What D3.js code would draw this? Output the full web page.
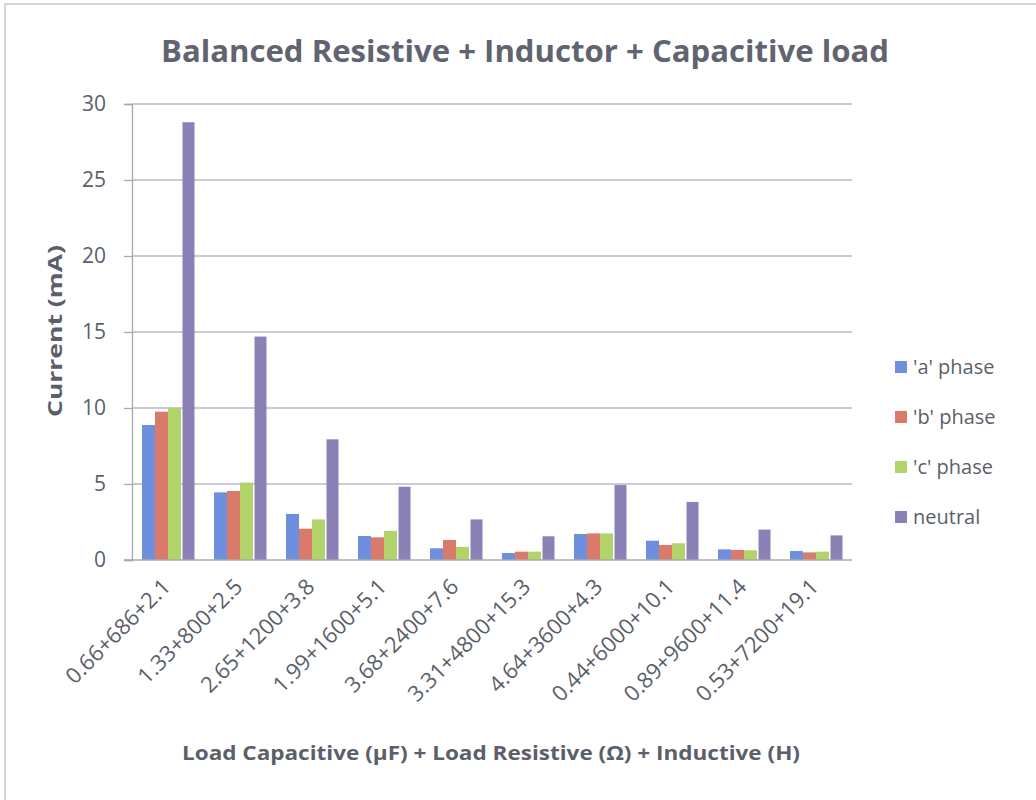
<!DOCTYPE html>
<html><head><meta charset="utf-8">
<script src="https://cdn.jsdelivr.net/npm/d3@7"></script>
<style>body{margin:0;background:#fff}svg{display:block}</style>
</head><body>
<svg id="c" width="1036" height="800"></svg>
<script>
const categories = ["0.66+686+2.1","1.33+800+2.5","2.65+1200+3.8","1.99+1600+5.1","3.68+2400+7.6","3.31+4800+15.3","4.64+3600+4.3","0.44+6000+10.1","0.89+9600+11.4","0.53+7200+19.1"];
const seriesNames = ["'a' phase","'b' phase","'c' phase","neutral"];
const aPhase  = [8.88, 4.45, 3.03, 1.58, 0.77, 0.46, 1.71, 1.27, 0.70, 0.59];
const bPhase  = [9.76, 4.54, 2.06, 1.49, 1.32, 0.55, 1.75, 0.99, 0.66, 0.50];
const cPhase  = [10.0, 5.09, 2.67, 1.91, 0.86, 0.55, 1.75, 1.10, 0.64, 0.55];
const neutral = [28.8, 14.7, 7.94, 4.82, 2.67, 1.56, 4.93, 3.82, 2.00, 1.62];
const yTicks = [0,5,10,15,20,25,30];
const colors = ["#6e8fde","#d97a6b","#b2d36a","#8c81b7"];

const svg = d3.select("#c");
const textCol = "#5b5f6a";
const font = "'Open Sans', sans-serif";

// frame
svg.append("path").attr("d","M5,800 V4 H1036").attr("fill","none").attr("stroke","#c8c8c8").attr("stroke-width",1.5);

const L=132, R=852, T=104, B=560;
const x = d3.scaleBand().domain(categories).range([L,R]).paddingInner(0).paddingOuter(0);
const xs = d3.scaleBand().domain(seriesNames).range([0,52]);
const y = d3.scaleLinear().domain([0,30]).range([B,T]);

// gridlines
svg.append("g").selectAll("line").data(yTicks.filter(d=>d>0)).join("line")
  .attr("x1",L).attr("x2",R).attr("y1",d=>y(d)).attr("y2",d=>y(d))
  .attr("stroke","#b5bacb").attr("stroke-width",1.3);

// bars
const data = [aPhase,bPhase,cPhase,neutral];
seriesNames.forEach((s,i)=>{
  svg.append("g").selectAll("rect").data(categories).join("rect")
    .attr("x",(c)=>x(c)+10+xs(s)+(i===3?1.5:0))
    .attr("width", xs.bandwidth()-(i===3?1:0))
    .attr("y",(c,j)=>y(data[i][j]))
    .attr("height",(c,j)=>B-y(data[i][j]))
    .attr("fill",colors[i]);
});

// y axis
const yAxis = d3.axisLeft(y).tickValues(yTicks).tickSize(8).tickPadding(18);
const gy = svg.append("g").attr("transform",`translate(${L},0)`).call(yAxis);
gy.select(".domain").attr("stroke","#a9a9b0").attr("stroke-width",1.3);
gy.selectAll(".tick line").attr("stroke","#a9a9b0").attr("stroke-width",1.3);
gy.selectAll(".tick text").attr("fill",textCol).attr("font-family",font).attr("font-size",21);

// x baseline
svg.append("line").attr("x1",L-8).attr("x2",R).attr("y1",B).attr("y2",B).attr("stroke","#a9a9b0").attr("stroke-width",1.5);

// x labels
const xAxis = d3.axisBottom(x).tickSize(0).tickPadding(0);
const gx = svg.append("g").attr("transform",`translate(0,${B})`).call(xAxis);
gx.select(".domain").remove();
gx.selectAll(".tick text")
  .attr("fill",textCol).attr("font-family",font).attr("font-size",22)
  .attr("text-anchor","end")
  .attr("dy",0)
  .attr("y",0)
  .attr("transform","translate(4,28) rotate(-45)");

function fit(sel, target){
  const n = sel.node(); const w = n.getComputedTextLength();
  if (Math.abs(w-target)>2) sel.attr("textLength",target).attr("lengthAdjust","spacingAndGlyphs");
}

// title
const title = svg.append("text").attr("x",525).attr("y",62).attr("text-anchor","middle")
  .attr("fill","#5f6470").attr("font-family",font).attr("font-weight","bold").attr("font-size",31)
  .text("Balanced Resistive + Inductor + Capacitive load");
fit(title,728);

// y title
const yt = svg.append("text").attr("transform","translate(62,331) rotate(-90)").attr("text-anchor","middle")
  .attr("fill",textCol).attr("font-family",font).attr("font-weight","bold").attr("font-size",20)
  .text("Current (mA)");
fit(yt,172);

// x title
const xt = svg.append("text").attr("x",491).attr("y",760).attr("text-anchor","middle")
  .attr("fill",textCol).attr("font-family",font).attr("font-weight","bold").attr("font-size",20)
  .text("Load Capacitive (µF) + Load Resistive (Ω) + Inductive (H)");
fit(xt,618);

// legend
const lg = svg.append("g");
seriesNames.forEach((s,i)=>{
  const cy = 367 + i*50;
  lg.append("rect").attr("x",895).attr("y",cy-6).attr("width",12).attr("height",12).attr("fill",colors[i]);
  lg.append("text").attr("x",913).attr("y",cy+7).attr("fill",textCol).attr("font-family",font).attr("font-size",20).text(s);
});
</script>
</body></html>
